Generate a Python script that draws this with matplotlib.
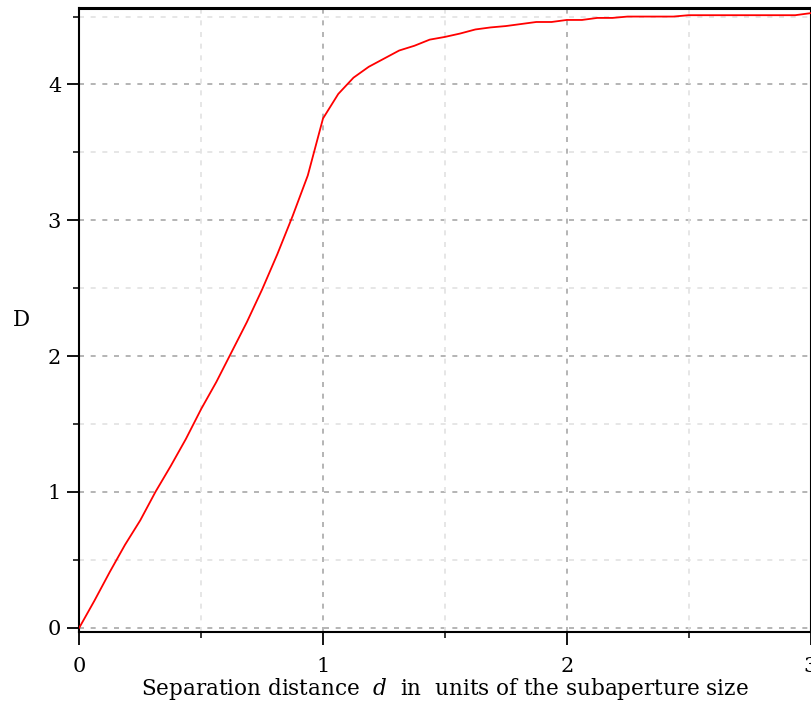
import matplotlib
matplotlib.use("Agg")
import matplotlib.pyplot as plt
import numpy as np
from matplotlib.ticker import MultipleLocator

plt.rcParams['font.family'] = ['DejaVu Serif']
plt.rcParams['mathtext.fontset'] = 'dejavuserif'

# sampled at d = k/16, k = 0..48
d_values = [i / 16 for i in range(49)]
D_values = [0.0, 0.20, 0.41, 0.61, 0.79, 1.00, 1.19, 1.39, 1.61, 1.81,
            2.03, 2.25, 2.49, 2.75, 3.03, 3.33, 3.75, 3.93, 4.05, 4.13,
            4.19, 4.25, 4.285, 4.33, 4.35, 4.375, 4.405, 4.42, 4.43, 4.445,
            4.46, 4.46, 4.475, 4.475, 4.49, 4.49, 4.50, 4.50, 4.50, 4.50,
            4.51, 4.51, 4.51, 4.51, 4.51, 4.51, 4.51, 4.51, 4.525]

x_ticks = [0, 1, 2, 3]
y_ticks = [0, 1, 2, 3, 4]

W, H = 811, 702
ax_w = 810.5 - 79.3
ax_h = 632 - 8
fig = plt.figure(figsize=(W / 100, H / 100), dpi=100)
ax = fig.add_axes([79.3 / W, (H - 632) / H, ax_w / W, ax_h / H])

ax.set_xlim(0, 3)
ax.set_ylim(-0.032, 4.563)

# grid lines
for yv in np.arange(0.5, 4.6, 1.0):
    ax.axhline(yv, color='#e2e2e2', lw=1.2, ls=(0, (3, 4)), zorder=1)
for yv in y_ticks:
    ax.axhline(yv, color='#a8a8a8', lw=1.2, ls=(0, (3, 4)), zorder=1)
for xv in [0.5, 1.5, 2.5]:
    ax.axvline(xv, color='#e2e2e2', lw=1.2, ls=(0, (3, 4)), zorder=1)
for xv in [1, 2]:
    ax.axvline(xv, color='#a8a8a8', lw=1.2, ls=(0, (3, 4)), zorder=1)

ax.plot(d_values, D_values, color='#ff0000', lw=1.3, zorder=3)

ax.set_xticks(x_ticks)
ax.set_yticks(y_ticks)
ax.xaxis.set_minor_locator(MultipleLocator(0.5))
ax.yaxis.set_minor_locator(MultipleLocator(0.5))
ax.tick_params(which='major', direction='out', length=9, width=1.3, labelsize=15)
ax.tick_params(axis='x', which='major', pad=9)
ax.tick_params(axis='y', which='major', pad=4)
ax.tick_params(which='minor', direction='out', length=4, width=1.1)
for s in ax.spines.values():
    s.set_linewidth(1.5)
    s.set_color('black')
ax.spines['top'].set_linewidth(2.2)

ax.set_xlabel(r"Separation distance  $d$  in  units of the subaperture size",
              fontsize=15.5, labelpad=0)
ax.set_ylabel("D", fontsize=15.5, rotation=0, ha='center', va='center')
ax.yaxis.set_label_coords((21 - 79.3) / ax_w, (632 - 320) / ax_h)

fig.savefig("out.png", dpi=100)
